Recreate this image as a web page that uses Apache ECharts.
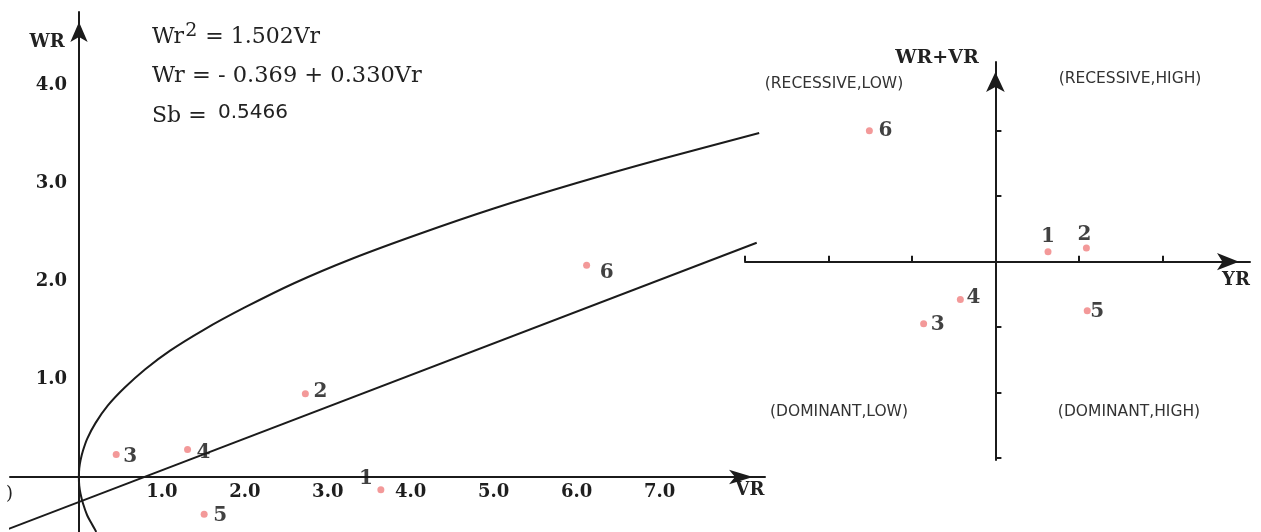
<!DOCTYPE html>
<html>
<head>
<meta charset="utf-8">
<script src="https://cdn.jsdelivr.net/npm/echarts@6/dist/echarts.min.js"></script>
<style>
html,body{margin:0;padding:0;background:#fff;}
#chart{width:1261px;height:532px;}
</style>
</head>
<body>
<div id="chart"></div>
<script>
// ---------- data ----------
const pointIds = ['1', '2', '3', '4', '5', '6'];
// left panel: Vr / Wr of the six parents
const leftVr = [3.64, 2.73, 0.45, 1.31, 1.51, 6.12];
const leftWr = [-0.13, 0.85, 0.23, 0.28, -0.38, 2.16];
// limiting parabola  Wr^2 = 1.502 Vr
const parabolaVr = [0.21, 0.15, 0.10, 0.05, 0.02, 0.005, 0, 0.005, 0.02, 0.05, 0.10, 0.20, 0.35, 0.55, 0.80, 1.10, 1.50, 2.00, 2.60, 3.30, 4.10, 5.00, 6.00, 7.00, 8.20];
const parabolaWr = [-0.56, -0.47, -0.39, -0.27, -0.17, -0.09, 0, 0.09, 0.17, 0.27, 0.39, 0.55, 0.73, 0.91, 1.10, 1.29, 1.50, 1.73, 1.98, 2.23, 2.48, 2.74, 3.00, 3.24, 3.51];
// regression line end points as drawn
const regLineVr = [-0.85, 8.17];
const regLineWr = [-0.53, 2.39];
// axis tick labels
const vrTicks = [1, 2, 3, 4, 5, 6, 7];
const wrTicks = [1, 2, 3, 4];
// right panel: YR vs WR+VR
const yrValues = [0.63, 1.09, -0.86, -0.42, 1.10, -1.51];
const wrvrValues = [0.15, 0.21, -0.95, -0.58, -0.75, 2.00];
const rightTicks = [-3, -2, -1, 1, 2];
// texts
const equations = ['Wr = - 0.369 + 0.330Vr'];
const quadrantLabels = ['(RECESSIVE,LOW)', '(RECESSIVE,HIGH)', '(DOMINANT,LOW)', '(DOMINANT,HIGH)'];

// ---------- styles ----------
const AX = '#1b1b1b';
const DOT = '#f08080';
const SERIF = '"DejaVu Serif", serif';
const SANS = '"DejaVu Sans", sans-serif';
const leftOffsets = [[-15, -11], [15, -2], [14, 2], [16, 3], [16, 2], [20, 7]];
const rightOffsets = [[0, -15], [-2, -13], [14, 1], [13, -2], [10, 1], [16, 0]];

function axisLineStyle(size, onZero) {
  return {
    show: true, onZero: onZero,
    symbol: ['none', 'arrow'],
    symbolSize: size,
    symbolOffset: [0, -size[1] / 2],
    lineStyle: { color: AX, width: 2 }
  };
}

function scatterData(xs, ys, offs) {
  return xs.map((x, i) => ({
    value: [x, ys[i]],
    name: pointIds[i],
    label: { offset: offs[i] }
  }));
}

const pointLabel = {
  show: true, position: 'inside', formatter: p => p.name,
  color: '#111', fontFamily: SERIF, fontWeight: 'bold', fontSize: 20,
  textBorderWidth: 0, textShadowBlur: 0
};

const chart = echarts.init(document.getElementById('chart'));
const option = {
  animation: false,
  backgroundColor: '#fff',
  grid: [
    { left: 10, top: 12, width: 755, height: 520, containLabel: false, outerBoundsMode: 'none' },
    { left: 745, top: 62, width: 505, height: 398, containLabel: false, outerBoundsMode: 'none' }
  ],
  xAxis: [
    {
      gridIndex: 0, type: 'value', min: -0.83, max: 8.27, position: 'bottom', offset: -55,
      axisLine: axisLineStyle([11, 24], false),
      axisTick: { show: false },
      splitLine: { show: false },
      axisLabel: {
        customValues: vrTicks, margin: 6,
        formatter: v => v.toFixed(1),
        color: '#1e1e1e', fontFamily: SERIF, fontWeight: 'bold', fontSize: 18
      }
    },
    {
      gridIndex: 1, type: 'value', min: -3, max: 3.05,
      axisLine: axisLineStyle([13, 22], true),
      axisTick: { show: true, customValues: rightTicks, inside: true, length: 6, lineStyle: { color: AX, width: 2 } },
      splitLine: { show: false },
      axisLabel: { show: false }
    }
  ],
  yAxis: [
    {
      gridIndex: 0, type: 'value', min: -0.561, max: 4.745, position: 'left', offset: -69,
      axisLine: axisLineStyle([13, 20], false),
      axisTick: { show: false },
      splitLine: { show: false },
      axisLabel: {
        customValues: wrTicks, margin: 12,
        formatter: v => v.toFixed(1),
        color: '#1e1e1e', fontFamily: SERIF, fontWeight: 'bold', fontSize: 18
      }
    },
    {
      gridIndex: 1, type: 'value', min: -3.03, max: 3.05,
      axisLine: axisLineStyle([14, 20], true),
      axisTick: { show: true, customValues: rightTicks, inside: true, length: 6, lineStyle: { color: AX, width: 2 } },
      splitLine: { show: false },
      axisLabel: { show: false }
    }
  ],
  series: [
    {
      type: 'line', xAxisIndex: 0, yAxisIndex: 0, silent: true,
      data: parabolaVr.map((v, i) => [v, parabolaWr[i]]),
      showSymbol: false, smooth: 0.3,
      lineStyle: { color: AX, width: 2 }
    },
    {
      type: 'line', xAxisIndex: 0, yAxisIndex: 0, silent: true,
      data: regLineVr.map((v, i) => [v, regLineWr[i]]),
      showSymbol: false,
      lineStyle: { color: AX, width: 2 }
    },
    {
      type: 'scatter', xAxisIndex: 0, yAxisIndex: 0,
      data: scatterData(leftVr, leftWr, leftOffsets),
      symbolSize: 7, itemStyle: { color: DOT },
      label: pointLabel
    },
    {
      type: 'scatter', xAxisIndex: 1, yAxisIndex: 1,
      data: scatterData(yrValues, wrvrValues, rightOffsets),
      symbolSize: 7, itemStyle: { color: DOT },
      label: pointLabel
    }
  ],
  graphic: [
    { type: 'text', x: 6, y: 494, style: { text: ')', font: '18px ' + SERIF, fill: '#222', verticalAlign: 'middle' } },
    { type: 'text', x: 47, y: 42, style: { text: 'WR', font: 'bold 18px ' + SERIF, fill: '#222', align: 'center', verticalAlign: 'middle' } },
    { type: 'text', x: 750, y: 490, style: { text: 'VR', font: 'bold 18px ' + SERIF, fill: '#222', align: 'center', verticalAlign: 'middle' } },
    { type: 'text', x: 937, y: 58, style: { text: 'WR+VR', font: 'bold 19px ' + SERIF, fill: '#222', align: 'center', verticalAlign: 'middle' } },
    { type: 'text', x: 1236, y: 280, style: { text: 'YR', font: 'bold 18px ' + SERIF, fill: '#222', align: 'center', verticalAlign: 'middle' } },
    {
      type: 'text', x: 152, y: 37,
      style: {
        text: '{a|Wr}{s|2}{a| = 1.502Vr}', verticalAlign: 'middle', fill: '#222',
        rich: {
          a: { fontFamily: SERIF, fontSize: 22, color: '#222', lineHeight: 26 },
          s: { fontFamily: SERIF, fontSize: 19, color: '#222', lineHeight: 26, padding: [0, 1, 12, 1] }
        }
      }
    },
    { type: 'text', x: 152, y: 76, style: { text: equations[0], font: '22.5px ' + SERIF, fill: '#222', verticalAlign: 'middle' } },
    { type: 'text', x: 152, y: 116, style: { text: 'Sb =', font: '22px ' + SERIF, fill: '#222', verticalAlign: 'middle' } },
    { type: 'text', x: 218, y: 113, style: { text: '0.5466', font: '20px ' + SANS, fill: '#222', verticalAlign: 'middle' } },
    { type: 'text', x: 834, y: 84, style: { text: quadrantLabels[0], font: '15.5px ' + SANS, fill: '#333', align: 'center', verticalAlign: 'middle' } },
    { type: 'text', x: 1130, y: 79, style: { text: quadrantLabels[1], font: '15.5px ' + SANS, fill: '#333', align: 'center', verticalAlign: 'middle' } },
    { type: 'text', x: 839, y: 412, style: { text: quadrantLabels[2], font: '15.5px ' + SANS, fill: '#333', align: 'center', verticalAlign: 'middle' } },
    { type: 'text', x: 1129, y: 412, style: { text: quadrantLabels[3], font: '15.5px ' + SANS, fill: '#333', align: 'center', verticalAlign: 'middle' } }
  ]
};
chart.setOption(option);
</script>
</body>
</html>
